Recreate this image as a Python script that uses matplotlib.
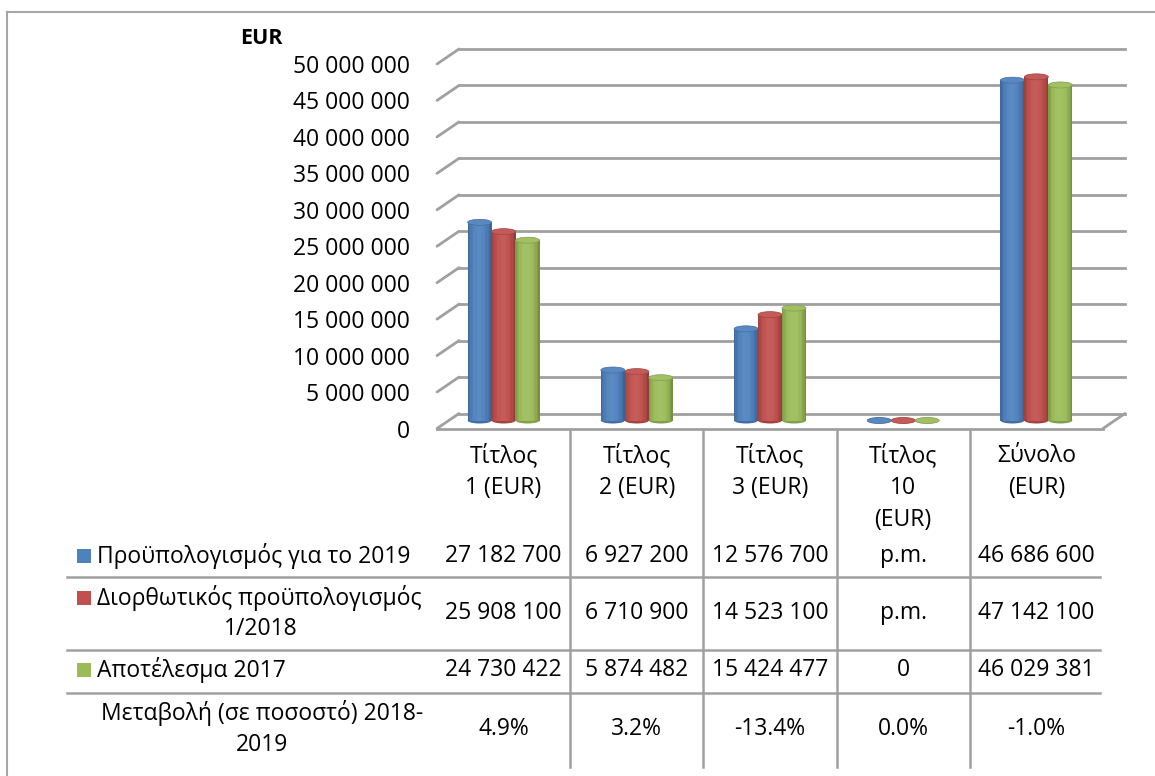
import numpy as np
import matplotlib
matplotlib.use("Agg")
import matplotlib.pyplot as plt
import matplotlib.transforms as mtransforms
from matplotlib.patches import ConnectionPatch, Ellipse, Rectangle
from matplotlib.lines import Line2D
from matplotlib.colors import to_rgb

plt.rcParams['font.family'] = ['Open Sans', 'DejaVu Sans']

# ---------------- data ----------------
header_lines = [['Τίτλος', '1 (EUR)'], ['Τίτλος', '2 (EUR)'], ['Τίτλος', '3 (EUR)'],
                ['Τίτλος', '10', '(EUR)'], ['Σύνολο', '(EUR)']]
series_labels = [['Προϋπολογισμός για το 2019'],
                 ['Διορθωτικός προϋπολογισμός', '1/2018'],
                 ['Αποτέλεσμα 2017']]
budget_2019 = [27182700, 6927200, 12576700, None, 46686600]
amending_2018 = [25908100, 6710900, 14523100, None, 47142100]
outturn_2017 = [24730422, 5874482, 15424477, 0, 46029381]
change_label = ['Μεταβολή (σε ποσοστό) 2018-', '2019']
change_pct = [4.9, 3.2, -13.4, 0.0, -1.0]
y_ticks = [0, 5e6, 10e6, 15e6, 20e6, 25e6, 30e6, 35e6, 40e6, 45e6, 50e6]
y_unit = 'EUR'
colors = ['#4f81bd', '#c0504d', '#9bbb59']
series = [budget_2019, amending_2018, outturn_2017]

def fmt(v):
    if v is None:
        return 'p.m.'
    return f'{v:,.0f}'.replace(',', ' ')

# ---------------- layout ----------------
W, H = 1155, 776
DPI = 100
fig = plt.figure(figsize=(W / DPI, H / DPI), dpi=DPI)
fig.patch.set_facecolor('white')
FS = 16.5

def fx(x):
    return x / W

def fy(y):
    return 1 - y / H

front_left, front_right = 437, 1103
y0_px, ytop_px = 428.5, 64
ax = fig.add_axes([fx(front_left), fy(y0_px), (front_right - front_left) / W, (y0_px - ytop_px) / H])
ax.set_xlim(-0.5, 4.5)
ax.set_ylim(0, 50e6)
ax.axis('off')

def offset(dx, dy):
    return ax.transData + mtransforms.ScaledTranslation(dx / DPI, dy / DPI, fig.dpi_scale_trans)

back = offset(22, 15)
bar_t = offset(0, 8)
grid_c = '#a0a0a0'
glw = 2.0

# outer frame (left and top edges visible)
fig.add_artist(Line2D([fx(7), fx(7)], [fy(12), fy(776)], color='#a6a6a6', lw=1.5, transform=fig.transFigure))
fig.add_artist(Line2D([fx(7), fx(1155)], [fy(12), fy(12)], color='#a6a6a6', lw=1.5, transform=fig.transFigure))

# back wall gridlines + left diagonals
xmin, xmax = -0.5, 4.5
for v in y_ticks:
    ax.plot([xmin, xmax], [v, v], color=grid_c, lw=glw, transform=back, clip_on=False, zorder=1)
    cp = ConnectionPatch(xyA=(xmin, v), coordsA=ax.transData, xyB=(xmin, v), coordsB=back,
                         color=grid_c, lw=glw, zorder=1)
    ax.add_artist(cp)
    ax.text(xmin, v, fmt(v), transform=offset(-27, -3), ha='right', va='center', fontsize=FS, color='#000000')

# floor front edge and right diagonal
ax.plot([xmin, xmax], [0, 0], color=grid_c, lw=glw, clip_on=False, zorder=1)
ax.add_artist(ConnectionPatch(xyA=(xmax, 0), coordsA=ax.transData, xyB=(xmax, 0), coordsB=back,
                              color=grid_c, lw=glw, zorder=1))

# unit label
fig.text(fx(261), fy(38), y_unit, ha='center', va='center', fontsize=FS - 1, fontweight='bold')

# ---------------- cylinders ----------------
px_per_unit = (y0_px - ytop_px) / 50e6
eh = 6 / px_per_unit
bw = 0.18
N = 18

def shade(c, f):
    c = np.array(to_rgb(c))
    if f >= 1:
        return tuple(c + (1 - c) * (f - 1))
    return tuple(c * f)

for i, (vals, col) in enumerate(zip(series, colors)):
    for j, v in enumerate(vals):
        h = 0 if v is None else v
        xc = j + (i - 1) * bw
        left = xc - bw / 2
        ax.add_patch(Ellipse((xc, 0), bw, eh, transform=bar_t, facecolor=shade(col, 0.85),
                             edgecolor='none', zorder=3 + i, clip_on=False))
        if h > 0:
            for k in range(N):
                t = (k + 0.5) / N
                f = 0.74 + 0.36 * np.sin(np.pi * t) ** 0.6 - 0.06 * t
                ax.bar(left + t * bw, h, width=bw / N * 1.15, bottom=0, color=shade(col, f),
                       linewidth=0, transform=bar_t, zorder=3 + i, clip_on=False)
        ax.add_patch(Ellipse((xc, h), bw, eh, transform=bar_t, facecolor=shade(col, 1.06),
                             edgecolor=shade(col, 0.85), lw=0.5, zorder=3 + i, clip_on=False))

# ---------------- data table ----------------
colx = mtransforms.blended_transform_factory(ax.transData, fig.transFigure)
line_c = '#a0a0a0'
for b in [0.5, 1.5, 2.5, 3.5]:
    fig.add_artist(Line2D([b, b], [fy(430), fy(767)], color=line_c, lw=1.8, transform=colx))
for yy in [577, 650, 693]:
    fig.add_artist(Line2D([fx(67), fx(1100)], [fy(yy), fy(yy)], color=line_c, lw=1.8,
                          transform=fig.transFigure))

header_y = [456, 488, 520]
for j, lines in enumerate(header_lines):
    for k, s in enumerate(lines):
        fig.text(j, fy(header_y[k]), s, transform=colx, ha='center', va='center', fontsize=FS)

row_y = [556, 613, 670, 729]
for r, vals in enumerate(series):
    for j, v in enumerate(vals):
        fig.text(j, fy(row_y[r]), fmt(v), transform=colx, ha='center', va='center', fontsize=FS)
for j, p in enumerate(change_pct):
    fig.text(j, fy(row_y[3]), f'{p:.1f}%', transform=colx, ha='center', va='center', fontsize=FS)

# row labels with legend keys
key_y = [556, 598, 670]
for r, lab in enumerate(series_labels):
    fig.add_artist(Rectangle((fx(77), fy(key_y[r] + 7)), 14 / W, 14 / H, facecolor=colors[r],
                             edgecolor='none', transform=fig.transFigure))
    fig.text(fx(97), fy(key_y[r]), lab[0], ha='left', va='center', fontsize=FS)
    if len(lab) > 1:
        fig.text(fx(261), fy(629), lab[1], ha='center', va='center', fontsize=FS)
fig.text(fx(262), fy(713), change_label[0], ha='center', va='center', fontsize=FS)
fig.text(fx(262), fy(745), change_label[1], ha='center', va='center', fontsize=FS)

fig.savefig('out.png', dpi=DPI, facecolor='white')
